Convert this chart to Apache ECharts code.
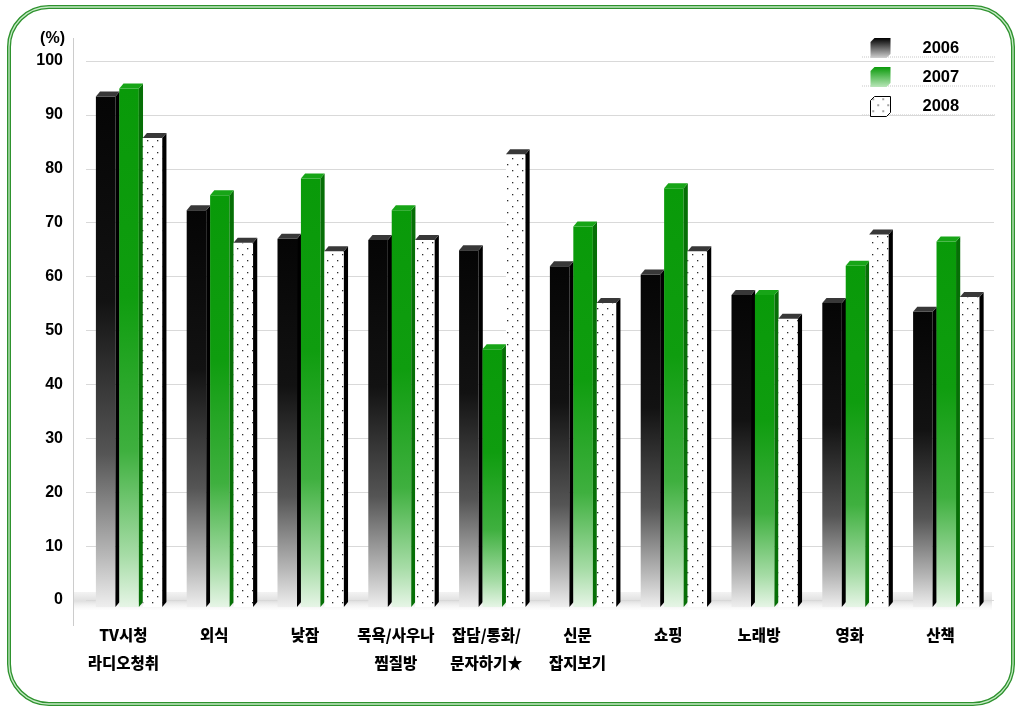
<!DOCTYPE html>
<html>
<head>
<meta charset="utf-8">
<script src="https://cdn.jsdelivr.net/npm/echarts@6/dist/echarts.min.js"></script>
<style>
  html, body { margin: 0; padding: 0; background: #fff; }
  #chart { width: 1019px; height: 709px; }
</style>
</head>
<body>
<div id="chart"></div>
<script>
// Leisure activities by year (%)
const categories = ['TV시청\n라디오청취', '외식', '낮잠', '목욕/사우나\n찜질방', '잡담/통화/\n문자하기★', '신문\n잡지보기', '쇼핑', '노래방', '영화', '산책'];
const years = ['2006', '2007', '2008'];
const values2006 = [93.4, 72.3, 67.0, 66.8, 64.9, 61.9, 60.4, 56.6, 55.1, 53.5];
const values2007 = [94.9, 75.1, 78.2, 72.3, 46.5, 69.3, 76.4, 56.6, 62.0, 66.5];
const values2008 = [85.7, 66.3, 64.7, 66.8, 82.7, 55.1, 64.7, 52.2, 67.8, 56.2];
const yMin = 0, yMax = 100, yStep = 10;

const G = echarts.graphic.LinearGradient;
const numFont = 'Liberation Sans, Arial, sans-serif';
const krFont = 'Noto Sans CJK KR, sans-serif';

// dotted fill for the 2008 bars
function dotPattern() {
  const c = document.createElement('canvas');
  c.width = 10; c.height = 12;
  const ctx = c.getContext('2d');
  ctx.fillStyle = '#ffffff';
  ctx.fillRect(0, 0, 10, 12);
  ctx.fillStyle = '#2a2a2a';
  ctx.fillRect(2, 2, 1.3, 1.3);
  ctx.fillRect(7, 8, 1.3, 1.3);
  return { image: c, repeat: 'repeat' };
}
const dots = dotPattern();

const faces = [
  { // 2006
    front: new G(0, 0, 0, 1, [
      { offset: 0, color: '#050505' }, { offset: 0.4, color: '#121212' },
      { offset: 0.7, color: '#555555' }, { offset: 0.9, color: '#b8b8b8' },
      { offset: 1, color: '#eeeeee' }]),
    side: '#000000', top: '#383838'
  },
  { // 2007
    front: new G(0, 0, 0, 1, [
      { offset: 0, color: '#099a09' }, { offset: 0.4, color: '#0f9d0f' },
      { offset: 0.7, color: '#3fb03f' }, { offset: 0.9, color: '#a6dca6' },
      { offset: 1, color: '#e6f5e6' }]),
    side: '#066f06', top: '#17a517'
  },
  { // 2008
    front: dots, side: '#000000', top: '#383838'
  }
];

function barRenderer(idx) {
  return function (params, api) {
    const cat = api.value(0);
    const val = api.value(1);
    const top = api.coord([cat, val]);
    const base = api.coord([cat, 0]);
    const band = api.size([1, 0])[0];
    const pitch = band * 0.258;
    const fw = band * 0.215;
    const dx = band * 0.046;
    const dy = 5;
    const drop = 7;
    const x0 = top[0] - band * 0.391 + idx * pitch;
    const yT = top[1];
    const yB = base[1] + drop;
    const f = faces[idx];
    return {
      type: 'group',
      children: [
        { type: 'rect', shape: { x: x0, y: yT, width: fw, height: yB - yT }, style: { fill: f.front } },
        { type: 'polygon', shape: { points: [[x0 + fw, yT], [x0 + fw + dx, yT - dy], [x0 + fw + dx, yB - dy], [x0 + fw, yB]] }, style: { fill: f.side } },
        { type: 'polygon', shape: { points: [[x0, yT], [x0 + fw, yT], [x0 + fw + dx, yT - dy], [x0 + dx, yT - dy]] }, style: { fill: f.top } }
      ]
    };
  };
}

// grey floor strip under the bars
function floorRenderer(params, api) {
  const cs = params.coordSys;
  const y0 = api.coord([0, 0])[1];
  return {
    type: 'rect',
    shape: { x: cs.x - 12, y: y0 - 8, width: cs.width + 10, height: 18 },
    style: {
      fill: new G(0, 0, 0, 1, [
        { offset: 0, color: 'rgba(220,220,220,0.35)' },
        { offset: 0.5, color: 'rgba(215,215,215,0.8)' },
        { offset: 1, color: 'rgba(245,245,245,0.2)' }])
    }
  };
}

const seriesValues = [values2006, values2007, values2008];
const cubeIcon = 'path://M0,4 L4,0 L20,0 L20,16 L16,20 L0,20 Z';

const chart = echarts.init(document.getElementById('chart'), null, { renderer: 'canvas' });

const option = {
  backgroundColor: '#ffffff',
  animation: false,
  grid: { left: 86, right: 25, top: 61, bottom: 109 },
  graphic: [
    { type: 'rect', shape: { x: 9, y: 7, width: 1004, height: 697, r: 40 }, style: { fill: null, stroke: '#2e922e', lineWidth: 4 }, z: 100 },
    { type: 'rect', shape: { x: 9, y: 7, width: 1004, height: 697, r: 40 }, style: { fill: null, stroke: '#c6eac6', lineWidth: 1.3 }, z: 101 },
    { type: 'line', shape: { x1: 73.5, y1: 38, x2: 73.5, y2: 626 }, style: { stroke: '#cccccc', lineWidth: 1 } },
    { type: 'line', shape: { x1: 862, y1: 57, x2: 995, y2: 57 }, style: { stroke: '#c8c8c8', lineWidth: 1, lineDash: [1, 1] } },
    { type: 'line', shape: { x1: 862, y1: 86, x2: 995, y2: 86 }, style: { stroke: '#c8c8c8', lineWidth: 1, lineDash: [1, 1] } },
    { type: 'line', shape: { x1: 862, y1: 115, x2: 995, y2: 115 }, style: { stroke: '#c8c8c8', lineWidth: 1, lineDash: [1, 1] } }
  ],
  legend: {
    orient: 'vertical',
    left: 865,
    top: 33,
    itemWidth: 20,
    itemHeight: 20,
    itemGap: 9,
    icon: cubeIcon,
    textStyle: { fontFamily: numFont, fontWeight: 'bold', fontSize: 16.5, color: '#000', padding: [0, 0, 0, 27] },
    data: [
      { name: years[0], itemStyle: { color: new G(0, 0, 0, 1, [{ offset: 0, color: '#000' }, { offset: 1, color: '#d0d0d0' }]) } },
      { name: years[1], itemStyle: { color: new G(0, 0, 0, 1, [{ offset: 0, color: '#0a9a0a' }, { offset: 1, color: '#b9e6b9' }]) } },
      { name: years[2], itemStyle: { color: dots, borderColor: '#000', borderWidth: 1 } }
    ]
  },
  xAxis: {
    type: 'category',
    data: categories,
    axisLine: { show: false },
    axisTick: { show: false },
    splitLine: { show: false },
    axisLabel: {
      interval: 0,
      margin: 21,
      lineHeight: 28,
      padding: [0, 16, 0, 0],
      color: '#000',
      fontSize: 15.5,
      fontWeight: 900,
      fontFamily: krFont
    }
  },
  yAxis: {
    type: 'value',
    min: yMin,
    max: yMax,
    interval: yStep,
    offset: 13,
    name: '(%)',
    nameLocation: 'end',
    nameGap: 14,
    nameTextStyle: { align: 'right', padding: [0, 8, 0, 0], color: '#000', fontSize: 16, fontWeight: 'bold', fontFamily: numFont },
    axisLine: { show: false },
    axisTick: { show: false },
    axisLabel: { margin: 10, color: '#000', fontSize: 16, fontWeight: 'bold', fontFamily: numFont },
    splitLine: { show: true, lineStyle: { color: '#d9d9d9', width: 1 } }
  },
  series: [
    {
      type: 'custom', name: 'floor', silent: true, z: 1,
      renderItem: floorRenderer,
      data: [[0, 0]]
    }
  ].concat(years.map(function (y, i) {
    return {
      type: 'custom',
      name: y,
      z: 2,
      renderItem: barRenderer(i),
      encode: { x: 0, y: 1 },
      data: seriesValues[i].map(function (v, k) { return [k, v]; })
    };
  }))
};

chart.setOption(option);
</script>
</body>
</html>
